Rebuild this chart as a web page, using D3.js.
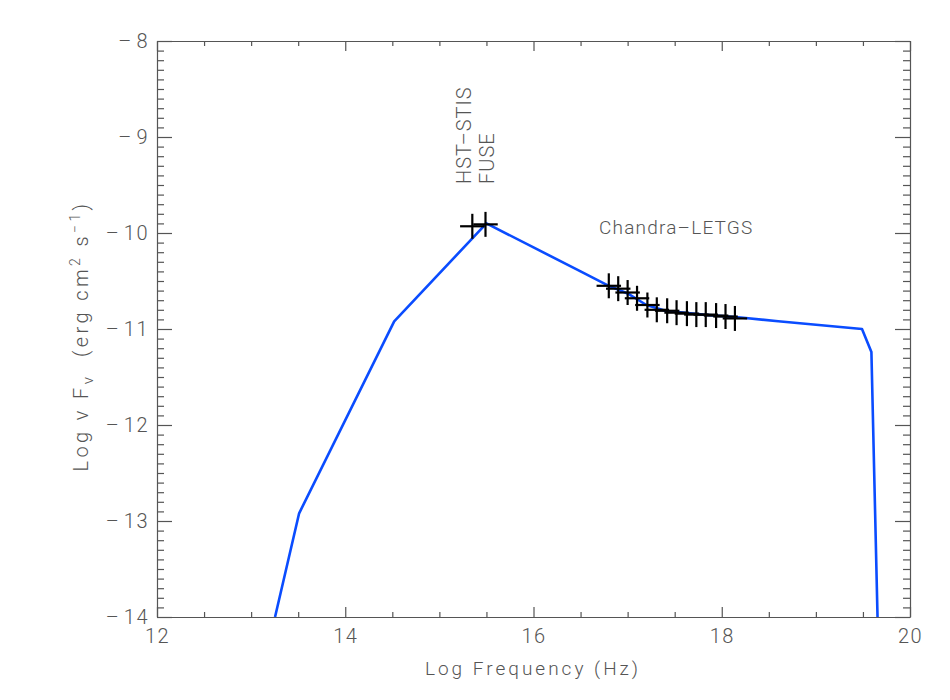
<!DOCTYPE html>
<html lang="en">
<head>
<meta charset="UTF-8">
<script src="https://cdn.jsdelivr.net/npm/d3@7"></script>
<title>SED</title>
<style>
  body { margin: 0; background: #fff; }
  text { font-family: Roboto, "DejaVu Sans", sans-serif; font-weight: 300; fill: #555; }
</style>
</head>
<body>
<script>
// model curve (log nu, log nuFnu)
var modelX = [13.254, 13.51, 14.52, 15.5, 16.0, 16.5, 16.8, 17.0, 17.2, 17.4, 17.8, 18.2, 18.6, 19.49, 19.59, 19.655];
var modelY = [-14.0, -12.92, -10.92, -9.9, -10.15, -10.40, -10.55, -10.63, -10.75, -10.81, -10.85, -10.88, -10.92, -11.0, -11.24, -14.0];

// HST-STIS / FUSE points
var uvX = [15.35, 15.49];
var uvY = [-9.93, -9.91];

// Chandra-LETGS points
var xrayX = [16.80, 16.90, 17.00, 17.10, 17.21, 17.31, 17.42, 17.52, 17.63, 17.73, 17.83, 17.94, 18.04, 18.14];
var xrayY = [-10.55, -10.58, -10.62, -10.68, -10.75, -10.80, -10.81, -10.83, -10.84, -10.85, -10.85, -10.86, -10.87, -10.89];
var xErr = 0.13, yErr = 0.13;

var xTicks = [12, 14, 16, 18, 20];
var yTicks = [-14, -13, -12, -11, -10, -9, -8];

var width = 950, height = 700;
var mLeft = 157, mRight = 910, mTop = 41, mBottom = 617;

var x = d3.scaleLinear().domain([12, 20]).range([mLeft, mRight]);
var y = d3.scaleLinear().domain([-14, -8]).range([mBottom, mTop]);

var svg = d3.select("body").append("svg").attr("width", width).attr("height", height);

svg.append("clipPath").attr("id", "clip").append("rect")
  .attr("x", mLeft).attr("y", mTop).attr("width", mRight - mLeft).attr("height", mBottom - mTop);

// wide dash for negative numbers, like the plot's own font
var fmt = function (d) { return d < 0 ? "\u2013\u200a" + Math.abs(d) : d; };
var minorX = d3.range(12, 20.01, 0.5).filter(function (d) { return d % 2 !== 0; });
var minorY = d3.range(-14, -7.99, 0.1).map(function (d) { return Math.round(d * 10) / 10; })
  .filter(function (d) { return Math.abs(d - Math.round(d)) > 0.01; });

function styleAxis(g) {
  g.selectAll("path, line").attr("stroke", "#555").attr("stroke-width", 1.2);
  g.selectAll("text").style("font-size", "20px").style("letter-spacing", "1.5px").attr("fill", "#666");
}

// bottom
svg.append("g").attr("transform", "translate(0," + mBottom + ")")
  .call(d3.axisBottom(x).tickValues(xTicks).tickFormat(fmt).tickSizeInner(-10).tickSizeOuter(0).tickPadding(12))
  .call(styleAxis);
svg.append("g").attr("transform", "translate(0," + mBottom + ")")
  .call(d3.axisBottom(x).tickValues(minorX).tickFormat("").tickSizeInner(-5).tickSizeOuter(0))
  .call(styleAxis).select(".domain").remove();
// top
svg.append("g").attr("transform", "translate(0," + mTop + ")")
  .call(d3.axisTop(x).tickValues(xTicks).tickFormat("").tickSizeInner(-10).tickSizeOuter(0))
  .call(styleAxis);
svg.append("g").attr("transform", "translate(0," + mTop + ")")
  .call(d3.axisTop(x).tickValues(minorX).tickFormat("").tickSizeInner(-5).tickSizeOuter(0))
  .call(styleAxis).select(".domain").remove();
// left
svg.append("g").attr("transform", "translate(" + mLeft + ",0)")
  .call(d3.axisLeft(y).tickValues(yTicks).tickFormat(fmt).tickSizeInner(-15).tickSizeOuter(0).tickPadding(8))
  .call(styleAxis);
svg.append("g").attr("transform", "translate(" + mLeft + ",0)")
  .call(d3.axisLeft(y).tickValues(minorY).tickFormat("").tickSizeInner(-7).tickSizeOuter(0))
  .call(styleAxis).select(".domain").remove();
// right
svg.append("g").attr("transform", "translate(" + mRight + ",0)")
  .call(d3.axisRight(y).tickValues(yTicks).tickFormat("").tickSizeInner(-15).tickSizeOuter(0))
  .call(styleAxis);
svg.append("g").attr("transform", "translate(" + mRight + ",0)")
  .call(d3.axisRight(y).tickValues(minorY).tickFormat("").tickSizeInner(-7).tickSizeOuter(0))
  .call(styleAxis).select(".domain").remove();

// model line
var line = d3.line().x(function (d) { return x(d[0]); }).y(function (d) { return y(d[1]); });
svg.append("path")
  .datum(d3.zip(modelX, modelY))
  .attr("clip-path", "url(#clip)")
  .attr("d", line)
  .attr("fill", "none")
  .attr("stroke", "#0a4cff")
  .attr("stroke-width", 2.6)
  .attr("stroke-linejoin", "round");

// error crosses
function crosses(xs, ys) {
  var pts = d3.zip(xs, ys);
  var g = svg.append("g").attr("stroke", "#000").attr("stroke-width", 2.2);
  g.selectAll(".h").data(pts).enter().append("line")
    .attr("x1", function (d) { return x(d[0] - xErr); })
    .attr("x2", function (d) { return x(d[0] + xErr); })
    .attr("y1", function (d) { return y(d[1]); })
    .attr("y2", function (d) { return y(d[1]); });
  g.selectAll(".v").data(pts).enter().append("line")
    .attr("x1", function (d) { return x(d[0]); })
    .attr("x2", function (d) { return x(d[0]); })
    .attr("y1", function (d) { return y(d[1] - yErr); })
    .attr("y2", function (d) { return y(d[1] + yErr); });
}
crosses(uvX, uvY);
crosses(xrayX, xrayY);

// labels
svg.append("text").attr("transform", "translate(471,184) rotate(-90)")
  .style("font-size", "20px").style("letter-spacing", "1px").attr("fill", "#333").text("HST\u2013STIS");
svg.append("text").attr("transform", "translate(494,184) rotate(-90)")
  .style("font-size", "20px").style("letter-spacing", "1px").attr("fill", "#333").text("FUSE");
svg.append("text").attr("x", 599).attr("y", 234)
  .style("font-size", "19px").style("letter-spacing", "1.2px").attr("fill", "#444").text("Chandra\u2013LETGS");

// axis titles
svg.append("text").attr("x", 533).attr("y", 675).attr("text-anchor", "middle")
  .style("font-size", "19px").style("letter-spacing", "3px").attr("fill", "#666").text("Log Frequency (Hz)");

var yt = svg.append("text").attr("transform", "translate(88,336) rotate(-90)")
  .attr("text-anchor", "middle").style("font-size", "20px").style("letter-spacing", "3.4px").attr("fill", "#666");
yt.append("tspan").text("Log \u03bd F");
yt.append("tspan").attr("dy", 5).style("font-size", "15px").text("\u03bd");
yt.append("tspan").attr("dy", -5).text("\u00a0\u00a0(erg cm");
yt.append("tspan").attr("dy", -8).style("font-size", "14px").text("2");
yt.append("tspan").attr("dy", 8).text(" s");
yt.append("tspan").attr("dy", -8).style("font-size", "14px").text("\u22121");
yt.append("tspan").attr("dy", 8).text(")");
</script>
</body>
</html>
